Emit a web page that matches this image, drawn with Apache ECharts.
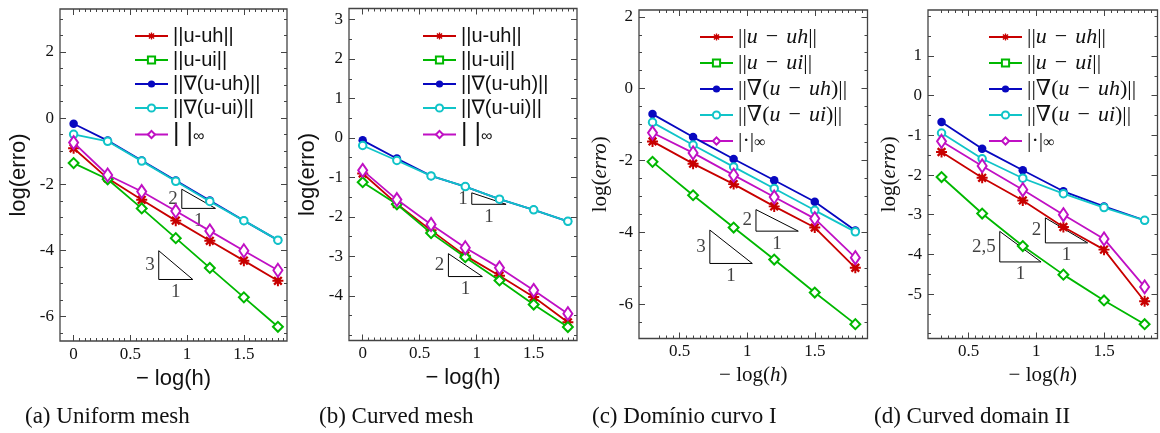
<!DOCTYPE html>
<html>
<head>
<meta charset="utf-8">
<script src="https://cdn.jsdelivr.net/npm/echarts@6/dist/echarts.min.js"></script>
<style>
  html, body { margin: 0; padding: 0; background: #fff; }
  #chart { width: 1160px; height: 433px; }
</style>
</head>
<body>
<div id="chart"></div>
<script>
// abscissas: -log(h)
const xAB = [0, 0.3, 0.6, 0.9, 1.2, 1.5, 1.8];
const xCD = [0.3, 0.6, 0.9, 1.2, 1.5, 1.8];

// (a) uniform mesh
const aUh     = [-0.91, -1.82, -2.47, -3.10, -3.71, -4.31, -4.92];
const aUi     = [-1.36, -1.85, -2.73, -3.63, -4.53, -5.42, -6.31];
const aGradUh = [-0.17, -0.68, -1.28, -1.89, -2.49, -3.10, -3.69];
const aGradUi = [-0.49, -0.70, -1.30, -1.91, -2.52, -3.10, -3.69];
const aInf    = [-0.74, -1.72, -2.22, -2.81, -3.41, -4.01, -4.60];

// (b) curved mesh
const bUh     = [-0.90, -1.67, -2.34, -2.98, -3.49, -4.03, -4.67];
const bUi     = [-1.12, -1.68, -2.41, -3.02, -3.61, -4.22, -4.79];
const bGradUh = [-0.06, -0.52, -0.96, -1.23, -1.55, -1.82, -2.11];
const bGradUi = [-0.19, -0.57, -0.96, -1.23, -1.55, -1.82, -2.11];
const bInf    = [-0.82, -1.56, -2.19, -2.78, -3.29, -3.86, -4.45];

// (c) dominio curvo I
const cUh     = [-1.47, -2.09, -2.66, -3.28, -3.87, -4.99];
const cUi     = [-2.04, -2.97, -3.87, -4.76, -5.68, -6.56];
const cGradUh = [-0.71, -1.35, -1.96, -2.55, -3.15, -3.95];
const cGradUi = [-0.94, -1.57, -2.18, -2.78, -3.39, -3.99];
const cInf    = [-1.23, -1.79, -2.41, -3.02, -3.62, -4.71];

// (d) curved domain II
const dUh     = [-1.42, -2.07, -2.64, -3.31, -3.88, -5.18];
const dUi     = [-2.05, -2.97, -3.79, -4.51, -5.16, -5.76];
const dGradUh = [-0.66, -1.34, -1.88, -2.41, -2.79, -3.14];
const dGradUi = [-0.94, -1.59, -2.08, -2.47, -2.82, -3.14];
const dInf    = [-1.15, -1.77, -2.37, -3.00, -3.61, -4.82];

// slope triangles: [x0, x1, yTop, yBottom, label]
const triA = [[0.953, 1.25, -2.15, -2.73, '2'], [0.75, 1.05, -4.01, -4.88, '3']];
const triB = [[0.957, 1.258, -1.39, -1.68, '1'], [0.752, 1.05, -2.93, -3.51, '2']];
const triC = [[1.065, 1.378, -3.37, -3.97, '2'], [0.724, 1.038, -3.94, -4.87, '3']];
const triD = [[1.067, 1.379, -3.08, -3.71, '2'], [0.730, 1.035, -3.42, -4.19, '2,5']];

// tick labels
const xTicksAB = [0, 0.5, 1, 1.5];
const xTicksCD = [0.5, 1, 1.5];
const yTicksA = [-6, -4, -2, 0, 2];
const yTicksB = [-4, -3, -2, -1, 0, 1, 2, 3];
const yTicksC = [-6, -4, -2, 0, 2];
const yTicksD = [-5, -4, -3, -2, -1, 0, 1];

const sansLabels = ['||u-uh||', '||u-ui||', '||∇(u-uh)||', '||∇(u-ui)||', '{bar|| |}{sub|∞}'];
const mathLabels = [
  '{r|||}{i|u}{m|−}{i|uh}{r|||}',
  '{r|||}{i|u}{m|−}{i|ui}{r|||}',
  '{r|||∇(}{i|u}{m|−}{i|uh}{r|)||}',
  '{r|||∇(}{i|u}{m|−}{i|ui}{r|)||}',
  '{r||·|}{sub|∞}'
];

const SERIF = "'Liberation Serif', 'DejaVu Serif', serif";
const SANS = "'Liberation Sans', 'DejaVu Sans', sans-serif";
const AXIS_COLOR = '#444';

// asterisk marker (plus + cross)
const starPath = 'path://M-1.8,-10L1.8,-10L1.8,10L-1.8,10Z M-10,-1.8L10,-1.8L10,1.8L-10,1.8Z M-5.5,-8.5L8.5,5.5L5.5,8.5L-8.5,-5.5Z M-8.5,5.5L5.5,-8.5L8.5,-5.5L-5.5,8.5Z';

const markStyles = [
  { symbol: starPath, size: 11, rotate: 0, color: '#c80000', border: 0 },
  { symbol: 'emptyRect', size: 7, rotate: 45, color: '#00b800', border: 1.8 },
  { symbol: 'circle', size: 8.5, rotate: 0, color: '#0808c0', border: 0 },
  { symbol: 'emptyCircle', size: 7.5, rotate: 0, color: '#10c4c8', border: 1.4 },
  { symbol: 'emptyDiamond', size: [9, 13], rotate: 0, color: '#c010c4', border: 1.8 }
];

const panels = [
  { key: 'a', grid: { left: 60, top: 9, width: 227, height: 332 },
    xr: [-0.12, 1.88], yr: [-6.74, 3.30], xTicks: xTicksAB, yTicks: yTicksA, xMinorFrom: 0.05,
    x: xAB, data: [aUh, aUi, aGradUh, aGradUi, aInf], tri: triA, math: false,
    legend: { left: 134, top: 26 }, caption: '(a) Uniform mesh', capLeft: 25 },
  { key: 'b', grid: { left: 349, top: 8.5, width: 228, height: 332 },
    xr: [-0.12, 1.88], yr: [-5.13, 3.28], xTicks: xTicksAB, yTicks: yTicksB, xMinorFrom: 0.05,
    x: xAB, data: [bUh, bUi, bGradUh, bGradUi, bInf], tri: triB, math: false,
    legend: { left: 422, top: 26 }, caption: '(b) Curved mesh', capLeft: 319 },
  { key: 'c', grid: { left: 639, top: 10, width: 228.5, height: 328.5 },
    xr: [0.2, 1.89], yr: [-6.96, 2.19], xTicks: xTicksCD, yTicks: yTicksC, xMinorFrom: 0.35,
    x: xCD, data: [cUh, cUi, cGradUh, cGradUi, cInf], tri: triC, math: true,
    legend: { left: 699, top: 26 }, caption: '(c) Domínio curvo I', capLeft: 592 },
  { key: 'd', grid: { left: 928, top: 10, width: 229.5, height: 328.5 },
    xr: [0.2, 1.895], yr: [-6.12, 2.16], xTicks: xTicksCD, yTicks: yTicksD, xMinorFrom: 0.3,
    x: xCD, data: [dUh, dUi, dGradUh, dGradUi, dInf], tri: triD, math: true,
    legend: { left: 988, top: 26 }, caption: '(d) Curved domain II', capLeft: 874 }
];

function steps(from, to, step) {
  const out = [];
  for (let v = from; v <= to + 1e-9; v += step) out.push(Math.round(v * 1000) / 1000);
  return out;
}

const grids = [], xAxes = [], yAxes = [], series = [], legends = [], graphics = [];

function tickAxis(gi, pos, range, values, len, label, extra) {
  return Object.assign({
    type: 'value', gridIndex: gi, position: pos, min: range[0], max: range[1],
    axisLine: { show: false, onZero: false },
    axisTick: { show: true, inside: true, length: len, customValues: values,
      lineStyle: { color: AXIS_COLOR, width: 1 } },
    axisLabel: label ? Object.assign({ customValues: values }, label) : { show: false },
    splitLine: { show: false }
  }, extra || {});
}

const mathRich = {
  r: { fontFamily: SERIF, fontSize: 22, color: '#111' },
  i: { fontFamily: SERIF, fontSize: 22, fontStyle: 'italic', color: '#111' },
  m: { fontFamily: SERIF, fontSize: 22, color: '#111', padding: [0, 8, 0, 8] }
};
const nameRich = {
  r: { fontFamily: SERIF, fontSize: 21, color: '#111' },
  i: { fontFamily: SERIF, fontSize: 21, fontStyle: 'italic', color: '#111' }
};

panels.forEach((p, gi) => {
  grids.push(Object.assign({ show: true, borderColor: AXIS_COLOR, borderWidth: 1.3,
    backgroundColor: 'transparent' }, p.grid));

  const xMinor = steps(p.xMinorFrom, p.xr[1], 0.05);
  const yMinor = steps(Math.ceil(p.yr[0] / 0.5) * 0.5, p.yr[1], 0.5);
  const tickFont = { fontFamily: SERIF, fontSize: 17, color: '#111' };

  const xName = p.math
    ? { name: '{r|− log(}{i|h}{r|)}', nameTextStyle: { rich: nameRich }, nameGap: 26 }
    : { name: '− log(h)', nameTextStyle: { fontFamily: SANS, fontSize: 22, color: '#111' }, nameGap: 25 };
  const yName = p.math
    ? { name: '{r|log(}{i|erro}{r|)}', nameTextStyle: { rich: nameRich }, nameGap: 28 }
    : { name: 'log(erro)', nameTextStyle: { fontFamily: SANS, fontSize: 22, color: '#111' }, nameGap: 30 };

  const xi = xAxes.length;
  xAxes.push(tickAxis(gi, 'bottom', p.xr, p.xTicks, 6, Object.assign({ margin: 5 }, tickFont),
    Object.assign({ nameLocation: 'middle' }, xName)));
  xAxes.push(tickAxis(gi, 'bottom', p.xr, xMinor, 3, null));
  xAxes.push(tickAxis(gi, 'top', p.xr, p.xTicks, 6, null));
  xAxes.push(tickAxis(gi, 'top', p.xr, xMinor, 3, null));

  const yi = yAxes.length;
  yAxes.push(tickAxis(gi, 'left', p.yr, p.yTicks, 6, Object.assign({ margin: 6 }, tickFont),
    Object.assign({ nameLocation: 'middle' }, yName)));
  yAxes.push(tickAxis(gi, 'left', p.yr, yMinor, 3, null));
  yAxes.push(tickAxis(gi, 'right', p.yr, p.yTicks, 6, null));
  yAxes.push(tickAxis(gi, 'right', p.yr, yMinor, 3, null));

  const names = [];
  p.data.forEach((vals, k) => {
    const st = markStyles[k];
    const name = p.key + k;
    names.push(name);
    series.push({
      type: 'line', name: name, xAxisIndex: xi, yAxisIndex: yi,
      data: vals.map((v, j) => [p.x[j], v]),
      symbol: st.symbol, symbolSize: st.size, symbolRotate: st.rotate,
      itemStyle: { color: st.color, borderWidth: st.border },
      lineStyle: { color: st.color, width: 1.8 },
      z: 3 + k, animation: false, silent: true
    });
  });

  // slope triangles
  p.tri.forEach(t => {
    const [x0, x1, yt, yb, lab] = t;
    series.push({
      type: 'line', xAxisIndex: xi, yAxisIndex: yi, silent: true, symbol: 'none',
      data: [[x0, yt], [x0, yb], [x1, yb], [x0, yt]],
      lineStyle: { color: '#000', width: 1 }, z: 2, animation: false
    });
    series.push({
      type: 'scatter', xAxisIndex: xi, yAxisIndex: yi, silent: true, symbolSize: 0.1,
      itemStyle: { color: 'transparent' }, animation: false,
      data: [
        { value: [x0, (yt + yb) / 2], label: { show: true, position: 'left', distance: 4, formatter: lab } },
        { value: [(x0 + x1) / 2, yb], label: { show: true, position: 'bottom', distance: 3, formatter: '1' } }
      ],
      label: { fontFamily: SERIF, fontSize: 19, color: '#111' }
    });
  });

  const labels = p.math ? mathLabels : sansLabels;
  legends.push({
    orient: 'vertical', left: p.legend.left, top: p.legend.top, padding: 0,
    itemWidth: 33, itemHeight: 9, itemGap: 4, symbolRotate: 0, selectedMode: false,
    data: names,
    formatter: n => labels[names.indexOf(n)],
    textStyle: p.math
      ? { fontFamily: SERIF, fontSize: 22, lineHeight: 20, color: '#111',
          rich: Object.assign({ sub: { fontFamily: SERIF, fontSize: 16, color: '#111', verticalAlign: 'bottom', lineHeight: 14 } }, mathRich) }
      : { fontFamily: SANS, fontSize: 20, lineHeight: 20, color: '#111',
          rich: { bar: { fontFamily: SANS, fontSize: 25, color: '#111' },
                  sub: { fontFamily: SANS, fontSize: 16, color: '#111', verticalAlign: 'bottom', lineHeight: 14 } } }
  });

  graphics.push({
    type: 'text', left: p.capLeft, top: 405,
    style: { text: p.caption, font: '23px ' + SERIF, fill: '#111' }
  });
});

const chart = echarts.init(document.getElementById('chart'), null, { renderer: 'canvas' });
chart.setOption({
  animation: false,
  backgroundColor: '#fff',
  grid: grids,
  xAxis: xAxes,
  yAxis: yAxes,
  legend: legends,
  series: series,
  graphic: graphics
});
</script>
</body>
</html>
